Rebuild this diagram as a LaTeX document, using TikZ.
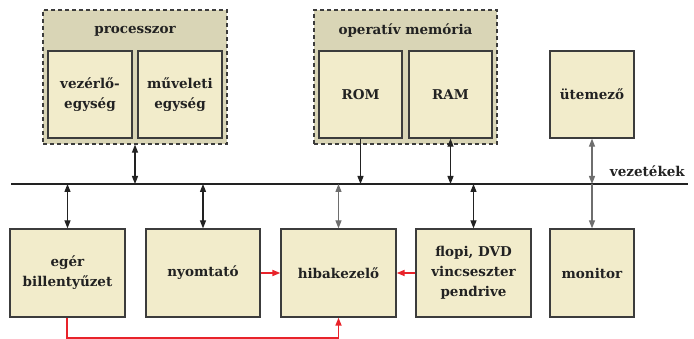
\documentclass[tikz,border=0pt]{standalone}
\usepackage{fontspec}
\setmainfont{DejaVu Serif}
\usetikzlibrary{arrows.meta}
\definecolor{outerfill}{HTML}{D9D5B6}
\definecolor{innerfill}{HTML}{F2ECCB}
\definecolor{edgecol}{HTML}{3C3C3C}
\definecolor{redline}{HTML}{E8232A}
\definecolor{txt}{HTML}{222222}
\definecolor{grayline}{HTML}{6E6E6E}
\begin{document}
\begin{tikzpicture}[x=1pt,y=-1pt,
  lbl/.style={font=\fontsize{13.5}{20}\selectfont\bfseries, text=txt, inner sep=0pt, align=center},
  cell/.style={lbl, draw=edgecol, fill=innerfill, line width=1.3pt},
  group/.style={draw=edgecol, fill=outerfill, line width=1.3pt, dash pattern=on 4pt off 3pt, inner sep=0pt},
  tipk/.tip={Triangle[length=8pt,width=6pt]},
  biarr/.style={draw=txt, line width=1.2pt, {tipk}-{tipk}},
  downarr/.style={draw=txt, line width=1.2pt, -{tipk}},
  redarr/.style={draw=redline, color=redline, line width=1.6pt, -{Triangle[length=8pt,width=6pt]}},
]
\useasboundingbox (0,0) rectangle (694,339);

% processor group
\node[group, minimum width=184pt, minimum height=134pt] (proc) at (135,77) {};
\node[lbl] (proct) at (135,31) {processzor};
\node[cell, minimum width=84pt, minimum height=87pt] (vez) at (90,94.5) {vezérlő-\\egység};
\node[cell, minimum width=84pt, minimum height=87pt] (muv) at (180,94.5) {műveleti\\egység};

% memory group
\node[group, minimum width=183pt, minimum height=134pt] (mem) at (405.5,77) {};
\node[lbl] (memt) at (405.5,31) {operatív memória};
\node[cell, minimum width=83pt, minimum height=87pt] (rom) at (360.5,94.5) {ROM};
\node[cell, minimum width=83pt, minimum height=87pt] (ram) at (450.5,94.5) {RAM};

% clock
\node[cell, minimum width=84pt, minimum height=87pt] (ute) at (592,94.5) {ütemező};

% bus
\coordinate (busL) at (11,184);
\coordinate (busR) at (688,184);
\draw[draw=txt, line width=1.8pt] (busL) -- (busR);
\node[lbl, anchor=base east] (vez2) at (685,177) {vezetékek};

% bottom row
\node[cell, minimum width=115pt, minimum height=88pt] (eger) at (67.5,273) {egér\\billentyűzet};
\node[cell, minimum width=114pt, minimum height=88pt] (nyom) at (203,273) {nyomtató};
\node[cell, minimum width=115pt, minimum height=88pt] (hiba) at (338.5,273) {hibakezelő};
\node[cell, minimum width=115pt, minimum height=88pt] (flop) at (473.5,273) {flopi, DVD\\vincseszter\\pendrive};
\node[cell, minimum width=84pt, minimum height=88pt] (moni) at (592,273) {monitor};

% bus connections
\draw[biarr] (proc.south) -- (proc.south |- busL);
\draw[downarr] (rom.south) -- (rom.south |- busL);
\draw[biarr] (ram.south) -- (ram.south |- busL);
\draw[biarr, draw=grayline] (ute.south) -- (ute.south |- busL);
\draw[biarr] (eger.north |- busL) -- (eger.north);
\draw[biarr] (nyom.north |- busL) -- (nyom.north);
\draw[biarr, draw=grayline] (hiba.north |- busL) -- (hiba.north);
\draw[biarr] (flop.north |- busL) -- (flop.north);
\draw[downarr, draw=grayline] (moni.north |- busL) -- (moni.north);

% red connections
\draw[redarr] (nyom.east) -- (hiba.west);
\draw[redarr] (flop.west) -- (hiba.east);
\draw[redarr] ([xshift=-0.5pt]eger.south) -- ++(0,20.5) -| (hiba.south);
\end{tikzpicture}
\end{document}
